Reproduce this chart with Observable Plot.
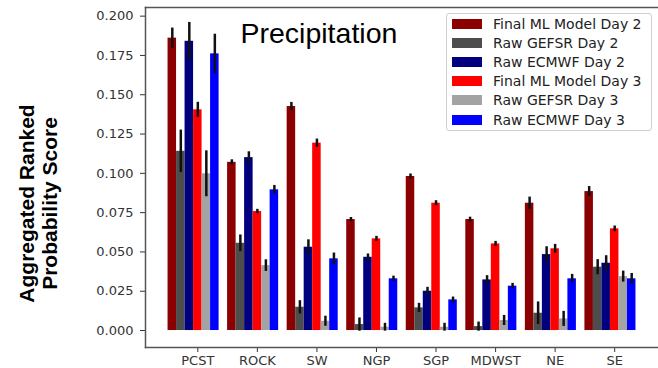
<!DOCTYPE html>
<html>
<head>
<meta charset="utf-8">
<script src="https://cdn.jsdelivr.net/npm/d3@7"></script>
<script src="https://cdn.jsdelivr.net/npm/@observablehq/plot@0.6"></script>
<style>
  html, body { margin: 0; padding: 0; background: white; overflow: hidden; }
  #wrap { position: relative; width: 658px; height: 368px; }
  #legend { position: absolute; left: 446px; top: 13px; width: 206px; height: 118px;
    border: 1px solid #d0d0d0; border-radius: 3px; background: rgba(255,255,255,0.85);
    font-family: "DejaVu Sans", sans-serif; font-size: 14px; color: #222; box-sizing: border-box; padding-top: 0px; }
  .row { height: 19.2px; display: flex; align-items: center; }
  .sw { width: 30px; height: 10px; margin-left: 5px; margin-right: 11px; }
</style>
</head>
<body>
<div id="wrap"><div id="legend"></div></div>
<script>
const categories = ["PCST", "ROCK", "SW", "NGP", "SGP", "MDWST", "NE", "SE"];
const series = ["Final ML Model Day 2", "Raw GEFSR Day 2", "Raw ECMWF Day 2",
                "Final ML Model Day 3", "Raw GEFSR Day 3", "Raw ECMWF Day 3"];
const colors = ["#8b0000", "#4d4d4d", "#00007f", "#ff0000", "#a3a3a3", "#0000ff"];

const finalD2 = [0.186, 0.107, 0.1425, 0.0706, 0.098, 0.0706, 0.081, 0.0884];
const gefsD2  = [0.114, 0.0555, 0.0148, 0.0038, 0.0144, 0.0025, 0.011, 0.0403];
const ecmwfD2 = [0.184, 0.110, 0.053, 0.0466, 0.025, 0.0322, 0.0483, 0.0428];
const finalD3 = [0.1404, 0.0757, 0.1192, 0.0583, 0.081, 0.0551, 0.052, 0.0647];
const gefsD3  = [0.0997, 0.0413, 0.0059, 0.0021, 0.0021, 0.0064, 0.0074, 0.0343];
const ecmwfD3 = [0.176, 0.0895, 0.0456, 0.0329, 0.0195, 0.0282, 0.0329, 0.0329];

const finalD2Err = [0.0064, 0.0016, 0.0026, 0.0013, 0.0016, 0.0015, 0.0039, 0.0032];
const gefsD2Err  = [0.0135, 0.0053, 0.0042, 0.0042, 0.0029, 0.0029, 0.0072, 0.0048];
const ecmwfD2Err = [0.012, 0.0037, 0.0047, 0.0021, 0.0025, 0.0027, 0.005, 0.0048];
const finalD3Err = [0.0048, 0.0014, 0.0026, 0.0016, 0.0016, 0.0016, 0.0028, 0.0018];
const gefsD3Err  = [0.0146, 0.0037, 0.0032, 0.0025, 0.0025, 0.0032, 0.0048, 0.0035];
const ecmwfD3Err = [0.0125, 0.0028, 0.0037, 0.0017, 0.0018, 0.0018, 0.0028, 0.0034];

const yTicks = [0, 0.025, 0.05, 0.075, 0.1, 0.125, 0.15, 0.175, 0.2];
const titleText = "Precipitation";
const yLabel = "Aggregated Ranked\nProbability Score";

const values = [finalD2, gefsD2, ecmwfD2, finalD3, gefsD3, ecmwfD3];
const errors = [finalD2Err, gefsD2Err, ecmwfD2Err, finalD3Err, gefsD3Err, ecmwfD3Err];

// Build table and band domain (with a spacer slot between groups)
const key = (c, s) => c + "|" + s;
const data = [];
categories.forEach((c, i) => series.forEach((s, j) => {
  data.push({cat: c, series: s, key: key(c, s), value: values[j][i], err: errors[j][i]});
}));
const xDomain = [];
categories.forEach((c, i) => {
  series.forEach(s => xDomain.push(key(c, s)));
  if (i < categories.length - 1) xDomain.push("gap" + i);
});
const tickKeys = categories.map(c => key(c, series[3]));

const chart = Plot.plot({
  width: 658,
  height: 368,
  marginLeft: 145,
  marginRight: 0,
  marginTop: 7,
  marginBottom: 21,
  style: {fontFamily: "DejaVu Sans, sans-serif", fontSize: "13px", color: "#333", background: "white"},
  x: {type: "band", domain: xDomain, paddingInner: 0, paddingOuter: 2.65, round: false, ticks: tickKeys,
      tickFormat: k => k.split("|")[0], tickSize: 5, tickPadding: 3, label: null},
  y: {domain: [-0.0108, 0.2055], ticks: yTicks, tickFormat: d3.format(".3f"),
      tickSize: 5, tickPadding: 7, label: null},
  color: {domain: series, range: colors},
  marks: [
    Plot.barY(data, {x: "key", y: "value", fill: "series"}),
    Plot.ruleX(data, {x: "key", y1: d => d.value - d.err, y2: d => d.value + d.err, stroke: "#111", strokeWidth: 2.5}),
    Plot.frame({anchor: "left", stroke: "#555", strokeWidth: 1.5}),
    Plot.frame({anchor: "top", stroke: "#555", strokeWidth: 1.5}),
    Plot.frame({anchor: "bottom", stroke: "#555", strokeWidth: 1.5}),
    Plot.text([titleText], {frameAnchor: "top-left", text: d => d, dx: 95, dy: 26, textAnchor: "start",
      lineAnchor: "middle", fontFamily: "Liberation Sans, Arial, sans-serif", fontSize: 28.5, fill: "#000"}),
    Plot.text([yLabel], {frameAnchor: "left", text: d => d, dx: -107, dy: 26, rotate: -90,
      textAnchor: "middle", lineAnchor: "middle", lineHeight: 1.1, fontFamily: "Liberation Sans, Arial, sans-serif",
      fontWeight: "bold", fontSize: 21, fill: "#000"})
  ]
});
document.getElementById("wrap").prepend(chart);

const legend = document.getElementById("legend");
series.forEach((s, j) => {
  const row = document.createElement("div");
  row.className = "row";
  const sw = document.createElement("div");
  sw.className = "sw";
  sw.style.background = colors[j];
  const t = document.createElement("span");
  t.textContent = s;
  row.append(sw, t);
  legend.append(row);
});
</script>
</body>
</html>
